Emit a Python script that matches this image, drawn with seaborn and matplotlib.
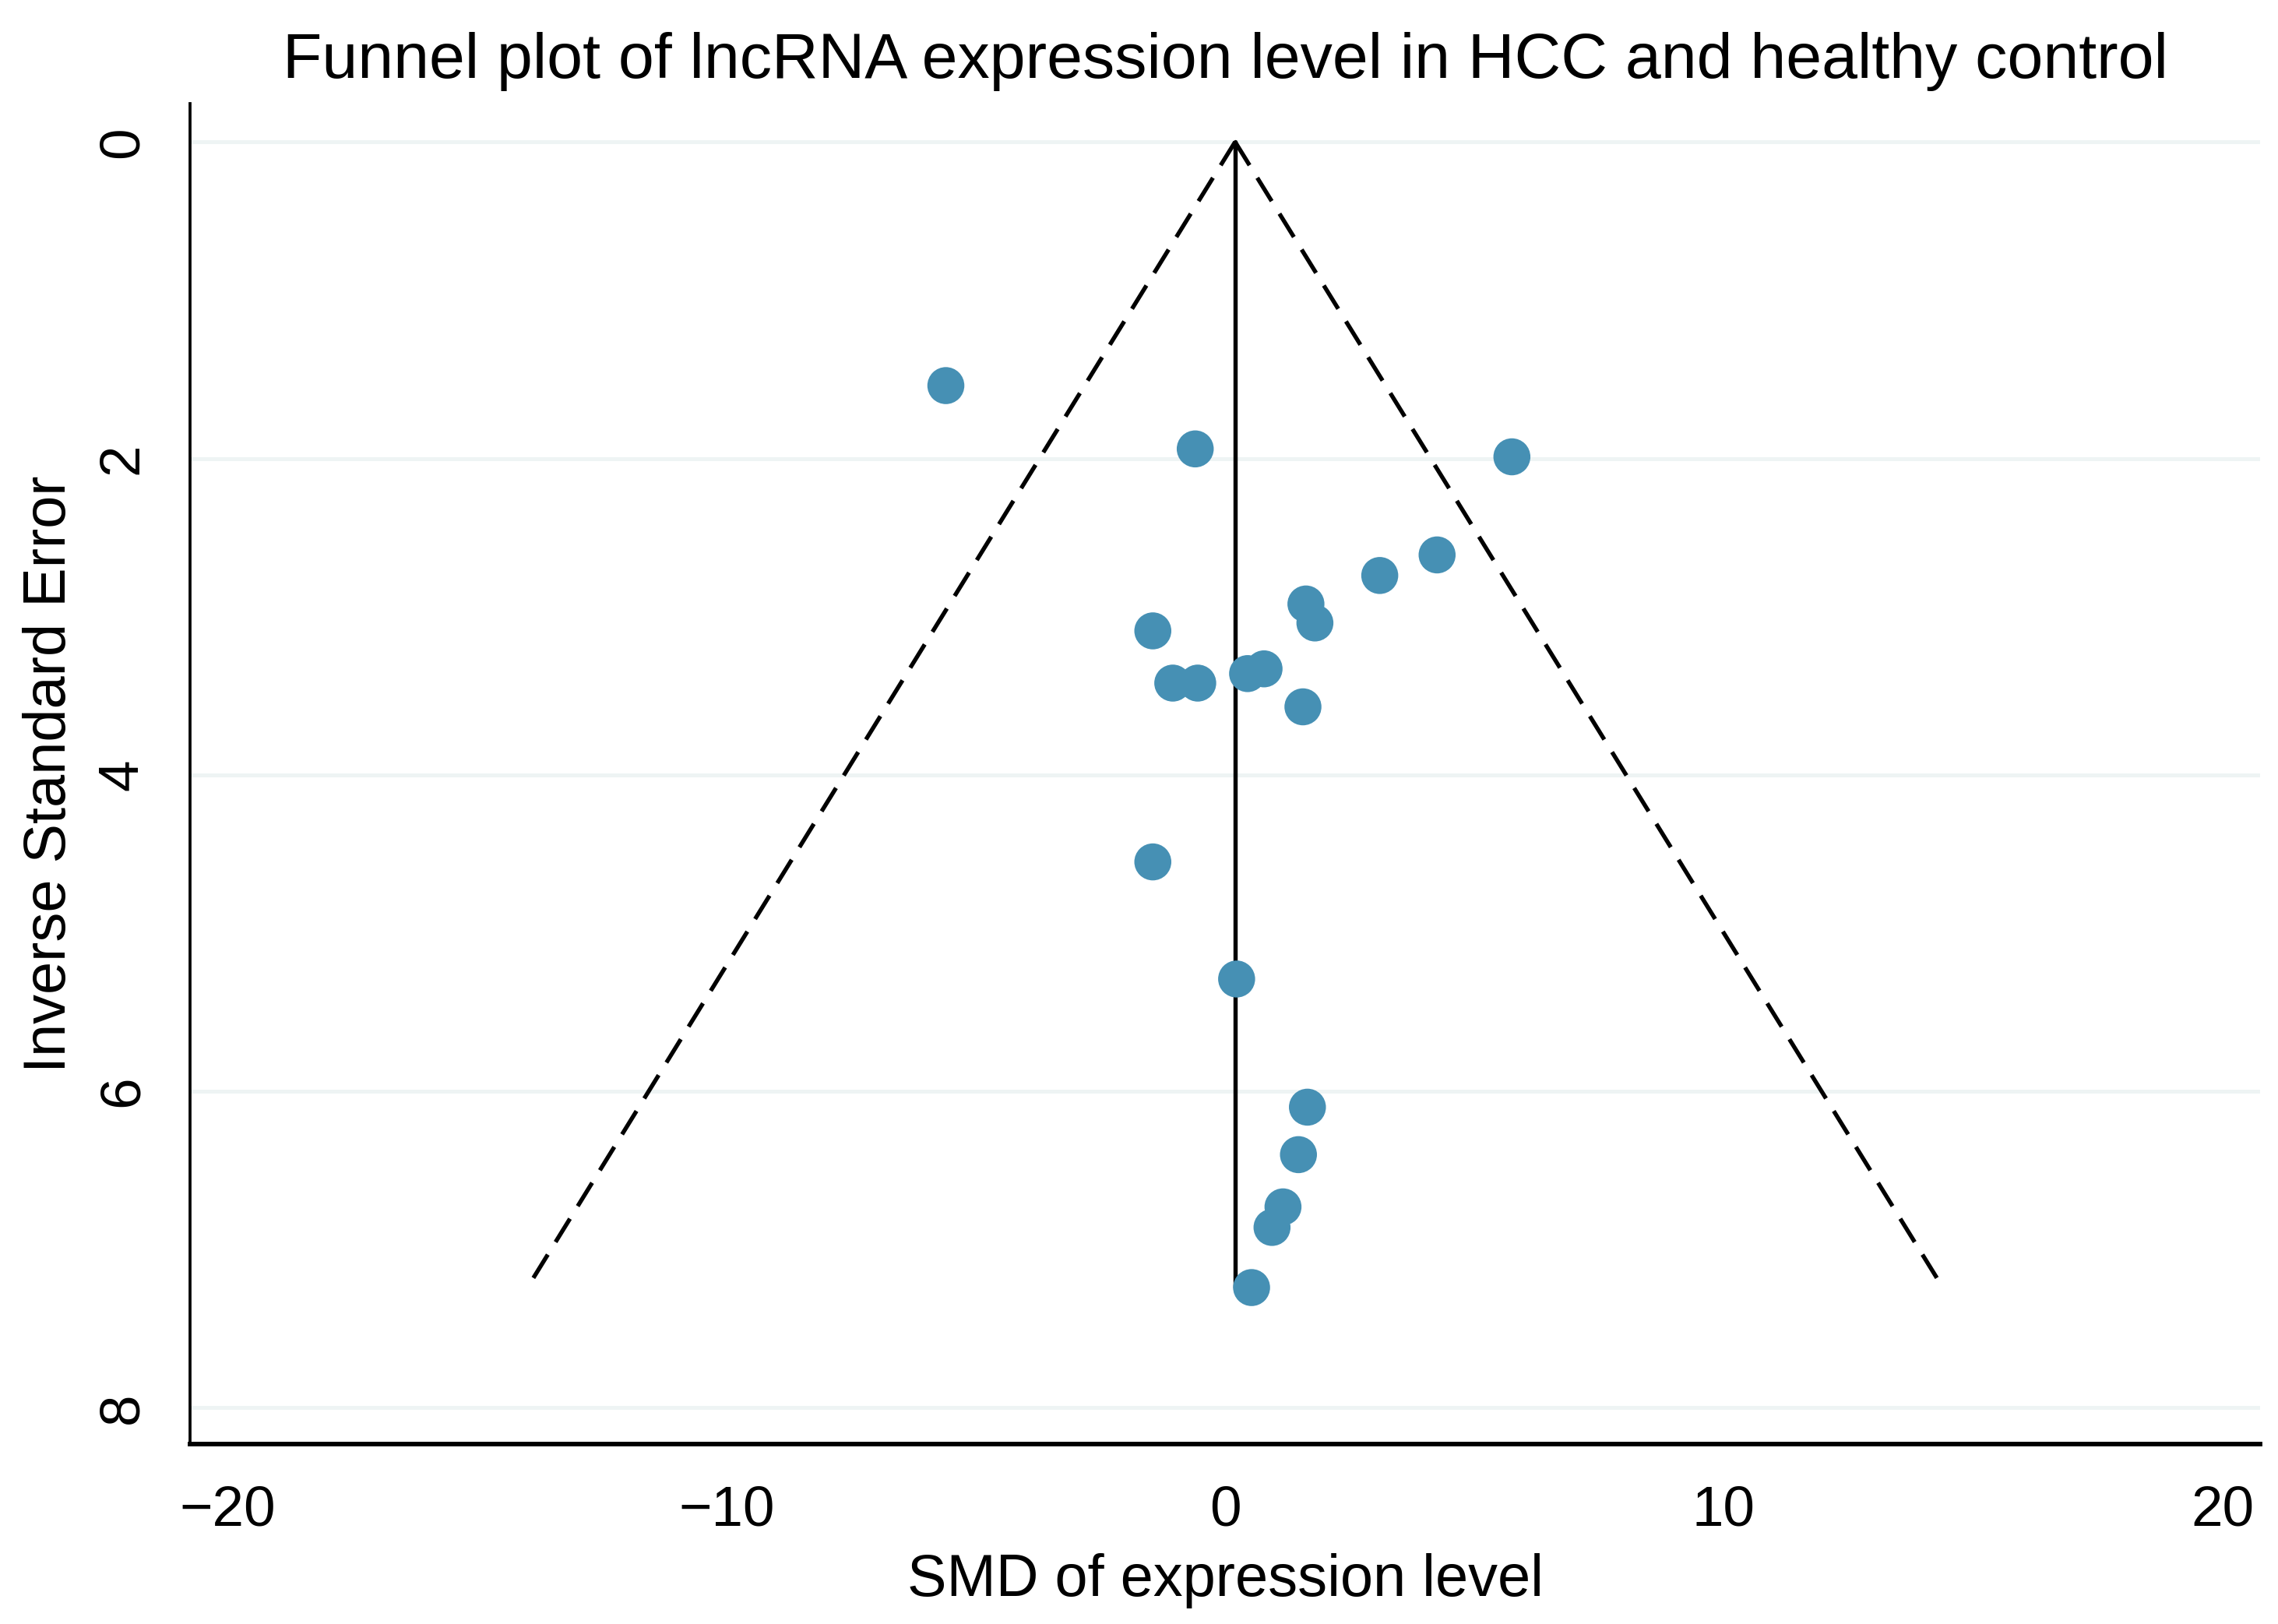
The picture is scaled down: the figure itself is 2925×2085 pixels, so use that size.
import numpy as np
import pandas as pd
import seaborn as sns
import matplotlib.pyplot as plt

# study estimates
smd = [-5.6, -0.6, 5.75, 4.25, 3.1, 1.62, 1.8, -1.45, -1.05, -0.55, 0.45, 0.78,
       1.56, -1.45, 0.23, 1.65, 1.47, 1.16, 0.94, 0.53]
inv_se = [1.54, 1.94, 1.99, 2.61, 2.74, 2.92, 3.04, 3.09, 3.42, 3.42, 3.36, 3.33,
          3.57, 4.55, 5.29, 6.10, 6.40, 6.73, 6.86, 7.24]

pooled = 0.2      # pooled SMD (centre line)
funnel_top = 7.24  # largest inverse SE

df = pd.DataFrame({"SMD": smd, "InvSE": inv_se})

sns.set_style("white")
plt.rcParams["font.family"] = ["Liberation Sans", "DejaVu Sans"]
plt.rcParams["text.color"] = "black"
plt.rcParams["axes.labelcolor"] = "black"

fig, ax = plt.subplots(figsize=(9.753, 6.95), dpi=300)
fig.subplots_adjust(left=0.0833, right=0.992, bottom=0.1107, top=0.936)

# pseudo 95% confidence limits
yy = np.array([0, funnel_top])
ax.plot(pooled - 1.96 * yy, yy, color="black", lw=1.3, ls=(0, (6.5, 3.5)), zorder=2)
ax.plot(pooled + 1.96 * yy, yy, color="black", lw=1.3, ls=(0, (6.5, 3.5)), zorder=2)
ax.plot([pooled, pooled], yy, color="black", lw=1.3, zorder=2)

sns.scatterplot(data=df, x="SMD", y="InvSE", ax=ax, color="#4690b4",
                s=130, edgecolor="none", zorder=3)

ax.set_xlim(-20.76, 20.76)
ax.set_ylim(8.23, -0.24)
ax.set_xticks([-20, -10, 0, 10, 20])
ax.set_yticks([0, 2, 4, 6, 8])
ax.set_xticklabels(["\u221220", "\u221210", "0", "10", "20"])
ax.yaxis.grid(True, color="#eef4f4", lw=1.2)
ax.set_axisbelow(True)

for s in ["top", "right"]:
    ax.spines[s].set_visible(False)
ax.spines["left"].set_color("black")
ax.spines["left"].set_linewidth(0.9)
ax.spines["bottom"].set_color("black")
ax.spines["bottom"].set_linewidth(1.4)

ax.tick_params(axis="both", direction="out", length=7.5, width=0.8,
               colors="black", labelsize=17.5, pad=5)
plt.setp(ax.get_yticklabels(), rotation=90, va="center")

ax.set_xlabel("SMD of expression level", fontsize=18.2, labelpad=5)
ax.set_ylabel("Inverse Standard Error", fontsize=18.2, labelpad=6)
ax.set_title("Funnel plot of lncRNA expression level in HCC and healthy control",
             fontsize=19.8, pad=8)

fig.savefig("out.png", dpi=300)
